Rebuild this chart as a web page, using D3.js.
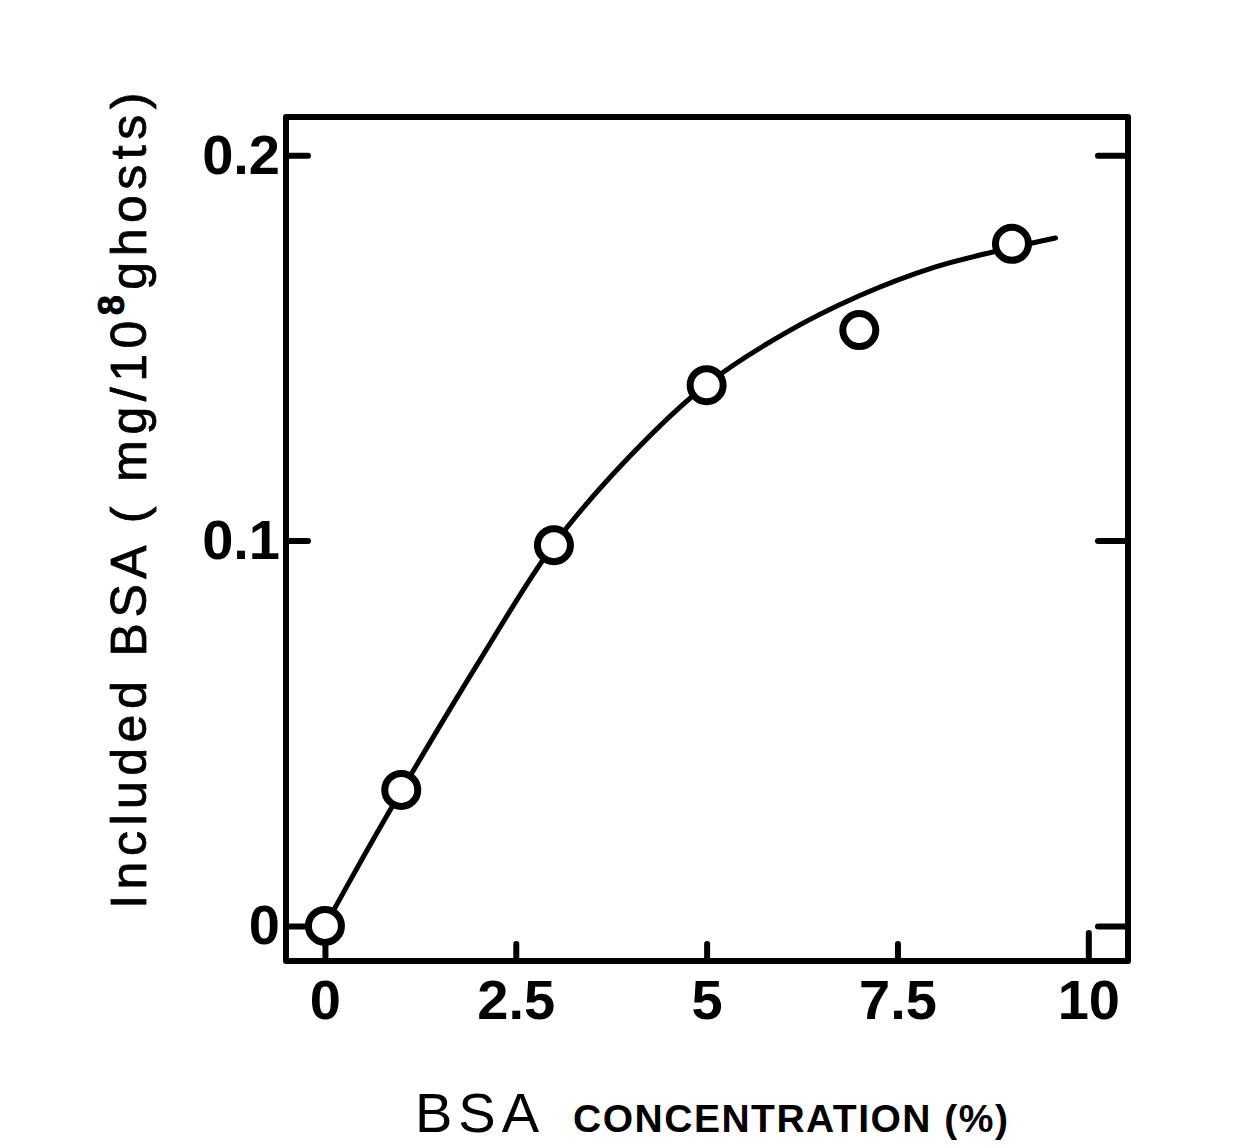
<!DOCTYPE html>
<html>
<head>
<meta charset="utf-8">
<script src="https://cdn.jsdelivr.net/npm/d3@7"></script>
<style>
body{margin:0;background:#fff;}
</style>
</head>
<body>
<div id="bsa_plot"></div>
<script>
/*Included BSA vs BSA concentration*/
var concPts=[0,1,3,5,7,9];
var bsaPts=[0,0.0353,0.0988,0.1403,0.1546,0.1770];
// fitted curve
var curveX=[0,0.5,1,2,3,4,5,6,7,8,9,9.57];
var curveY=[0,0.0178,0.035,0.068,0.099,0.122,0.1405,0.1535,0.1635,0.171,0.176,0.1785];
var xTicks=[0,2.5,5,7.5,10];
var xTickLabels=["0","2.5","5","7.5","10"];
var yTicks=[0,0.1,0.2];
var yTickLabels=["0","0.1","0.2"];

var margin={top:117,right:118,bottom:184,left:286},
w=1246-margin.left-margin.right,
h=1145-margin.top-margin.bottom;

var svg=d3.select("#bsa_plot")
.append("svg")
.attr("width",1246)
.attr("height",1145)
.append("g")
.attr("transform",`translate(${margin.left},${margin.top})`);

var xScale=d3.scaleLinear().domain([-0.51,10.52]).range([0,w]);
var yScale=d3.scaleLinear().domain([-0.0091,0.2099]).range([h,0]);

//axes, ticks pointing inward
var xAxis=svg.append("g")
.attr("transform","translate(0,"+h+")")
.call(d3.axisBottom(xScale).tickValues(xTicks)
.tickFormat(function(d,i){return xTickLabels[i];})
.tickSizeInner(-17).tickSizeOuter(0).tickPadding(18));
xAxis.selectAll(".tick line").filter(function(d){return d==10;}).attr("y2",-28);

var yAxis=svg.append("g")
.call(d3.axisLeft(yScale).tickValues(yTicks)
.tickFormat(function(d,i){return yTickLabels[i];})
.tickSizeInner(-22).tickSizeOuter(0).tickPadding(6));

var yAxisR=svg.append("g")
.attr("transform","translate("+w+",0)")
.call(d3.axisRight(yScale).tickValues(yTicks)
.tickFormat("").tickSizeInner(-30).tickSizeOuter(0));

svg.selectAll(".domain").remove();
svg.selectAll(".tick line")
.attr("stroke","#000").attr("stroke-width",6).attr("stroke-linecap","round");
svg.selectAll(".tick text")
.attr("fill","#000")
.style("font-family","'Liberation Sans',Arial,sans-serif")
.style("font-weight","bold")
.style("font-size","56px");

//frame
svg.append("rect")
.attr("x",0).attr("y",0).attr("width",w).attr("height",h)
.attr("fill","none").attr("stroke","#000").attr("stroke-width",6)
.attr("stroke-linejoin","round");

//curve
var curveData=curveX.map(function(d,i){return {x:d,y:curveY[i]};});
var line=d3.line()
.x(function(d){return xScale(d.x);})
.y(function(d){return yScale(d.y);})
.curve(d3.curveCatmullRom);
svg.append("path")
.datum(curveData)
.attr("d",line)
.attr("fill","none").attr("stroke","#000").attr("stroke-width",5)
.attr("stroke-linecap","round");

//data points
svg.selectAll("circle.pt")
.data(concPts).enter()
.append("circle")
.attr("class","pt")
.attr("cx",function(d){return xScale(d);})
.attr("cy",function(d,i){return yScale(bsaPts[i]);})
.attr("r",16.5)
.attr("fill","#fff").attr("stroke","#000").attr("stroke-width",7);

//axis titles
var root=d3.select("#bsa_plot svg");
var yTitle=root.append("text")
.attr("transform","translate(146,498)rotate(-90)")
.attr("text-anchor","middle")
.style("font-family","'Liberation Sans',Arial,sans-serif")
.style("font-size","50px")
.style("letter-spacing","5.5px")
.attr("fill","#000").attr("stroke","#000").attr("stroke-width",0.8);
yTitle.append("tspan").text("Included BSA ( mg/10");
yTitle.append("tspan").attr("dy",-22).style("font-size","36px").style("font-weight","bold").text("8");
yTitle.append("tspan").attr("dy",22).text("ghosts)");

var xTitle=root.append("text")
.attr("x",415).attr("y",1132)
.style("font-family","'Liberation Sans',Arial,sans-serif")
.attr("fill","#000");
xTitle.append("tspan").style("font-size","56px").style("letter-spacing","6px").text("BSA");
xTitle.append("tspan").attr("dx",28).style("font-size","39px").style("font-weight","bold")
.style("letter-spacing","1.5px").text("CONCENTRATION (%)");
</script>
</body>
</html>
